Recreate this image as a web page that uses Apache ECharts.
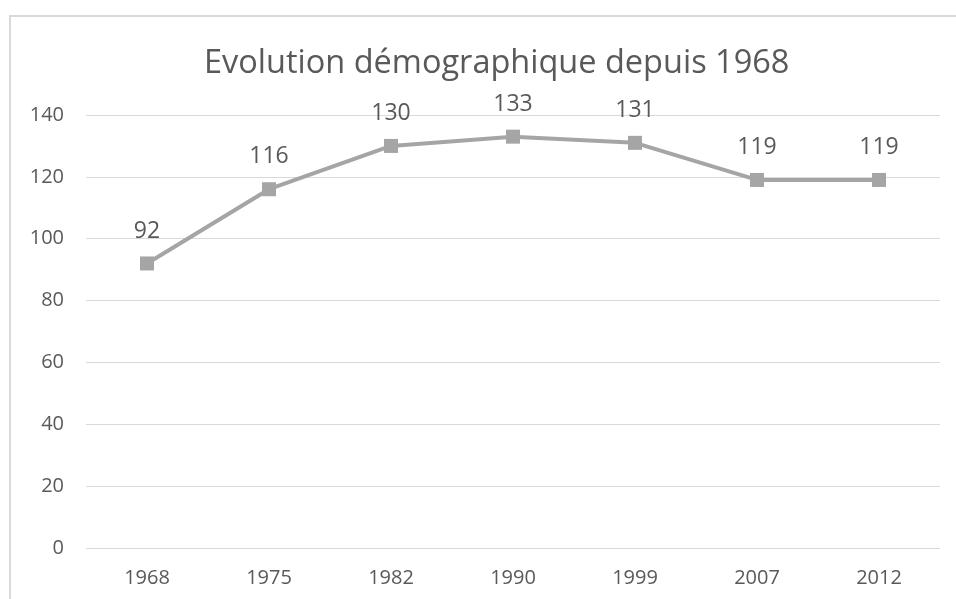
<!DOCTYPE html>
<html><head><meta charset="utf-8">
<script src="https://cdn.jsdelivr.net/npm/echarts@6/dist/echarts.min.js"></script>
<style>html,body{margin:0;padding:0;background:#fff}#c{width:956px;height:599px}</style>
</head><body><div id="c"></div>
<script>
const categories = ['1968','1975','1982','1990','1999','2007','2012'];
const population = [92,116,130,133,131,119,119];
const yTicks = {min:0, max:140, interval:20};
const titleText = 'Evolution démographique depuis 1968';

const chart = echarts.init(document.getElementById('c'));
const font = '"Open Sans", sans-serif';
chart.setOption({
  animation:false,
  backgroundColor:'#fff',
  graphic:[{type:'rect', shape:{x:10,y:16,width:1000,height:700}, style:{fill:'none', stroke:'#d9d9d9', lineWidth:2}, silent:true}],
  title:{text:titleText, left:199, top:42, itemGap:0, textStyle:{fontFamily:font, fontSize:32.5, fontWeight:'normal', color:'#595959'}},
  grid:{left:86, right:16, top:115, bottom:51},
  xAxis:{type:'category', data:categories, boundaryGap:true,
    axisLine:{show:false}, axisTick:{show:false},
    axisLabel:{fontFamily:font, fontSize:20, color:'#595959', margin:20}},
  yAxis:{type:'value', min:yTicks.min, max:yTicks.max, interval:yTicks.interval,
    axisLine:{show:false}, axisTick:{show:false},
    splitLine:{lineStyle:{color:'#d9d9d9', width:1}},
    axisLabel:{fontFamily:font, fontSize:20, color:'#595959', margin:22}},
  series:[{type:'line', data:population, symbol:'rect', symbolSize:14,
    lineStyle:{color:'#a5a5a5', width:4}, itemStyle:{color:'#a5a5a5'},
    label:{show:true, position:'top', distance:14, fontFamily:font, fontSize:23, color:'#595959'}}]
});
</script></body></html>
